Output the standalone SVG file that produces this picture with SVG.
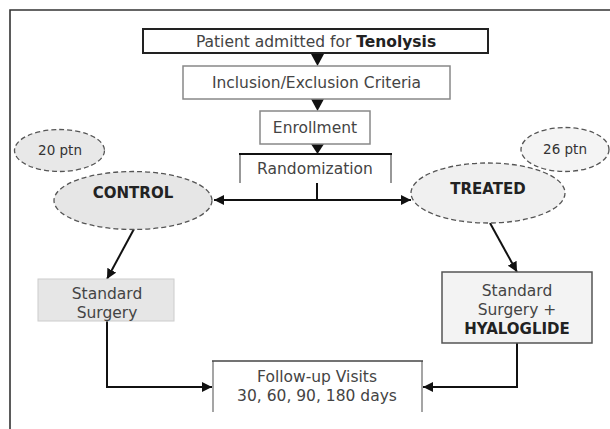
<svg xmlns="http://www.w3.org/2000/svg" width="610" height="429" viewBox="0 0 610 429">
<defs>
<style>
.t{font-family:"DejaVu Sans",Verdana,sans-serif;font-size:15.5px;fill:#444;text-anchor:middle}
.b{font-family:"DejaVu Sans",Verdana,sans-serif;font-size:15px;font-weight:bold;fill:#222;text-anchor:middle}
.s{font-family:"DejaVu Sans",Verdana,sans-serif;font-size:13.5px;fill:#333;text-anchor:middle}
.box{fill:#fff;stroke:#888;stroke-width:1.5}
.ell{stroke:#555;stroke-width:1.3;stroke-dasharray:5 3}
.ln{fill:none;stroke:#111;stroke-width:2}
.tri{fill:#111}
</style>
<marker id="ah" viewBox="0 0 10 10" refX="10" refY="5" markerWidth="5" markerHeight="5" orient="auto" markerUnits="strokeWidth">
<path d="M0,0 L10,5 L0,10 z" fill="#111"/>
</marker>
</defs>
<rect width="610" height="429" fill="#fff"/>
<path d="M10,429 V10 H610" fill="none" stroke="#333" stroke-width="1.6"/>

<g id="connectors">
<polygon class="tri" points="311,54 324,54 317.5,66"/>
<polygon class="tri" points="311,99 324,99 317.5,111"/>
<polygon class="tri" points="311,144 324,144 317.5,154"/>
<path class="ln" d="M317,183 V200" stroke-width="1.8"/>
<path class="ln" d="M317,200 H214" stroke-width="1.8" marker-end="url(#ah)"/>
<path class="ln" d="M317,200 H411" stroke-width="1.8" marker-end="url(#ah)"/>
<path class="ln" d="M134,229 L107,279" marker-end="url(#ah)"/>
<path class="ln" d="M490,223 L517,272" marker-end="url(#ah)"/>
<path class="ln" d="M107,321 V387 H212" marker-end="url(#ah)"/>
<path class="ln" d="M517,343 V387 H423" marker-end="url(#ah)"/>
</g>

<g id="patient">
<rect x="143" y="29" width="345" height="24" fill="#fff" stroke="#222" stroke-width="2"/>
<text class="t" x="316" y="47">Patient admitted for <tspan font-weight="bold" fill="#222">Tenolysis</tspan></text>
</g>

<g id="inclusion">
<rect class="box" x="183" y="66" width="267" height="33"/>
<text class="t" x="316.5" y="87.5">Inclusion/Exclusion Criteria</text>
</g>

<g id="enrollment">
<rect class="box" x="260" y="111" width="110" height="33"/>
<text class="t" x="315" y="132.5">Enrollment</text>
</g>

<g id="randomization">
<path d="M240,183 V154 M391,154 V183" fill="none" stroke="#777" stroke-width="1.5"/>
<path d="M239,154 H392" fill="none" stroke="#111" stroke-width="2"/>
<text class="t" x="315" y="173.5">Randomization</text>
</g>

<g id="ptn20">
<ellipse class="ell" cx="59.5" cy="150.5" rx="45" ry="21" fill="#e8e8e8"/>
<text class="s" x="60" y="155">20 ptn</text>
</g>

<g id="control">
<ellipse class="ell" cx="133" cy="200.5" rx="79" ry="29" fill="#e6e6e6"/>
<text class="b" x="133" y="198">CONTROL</text>
</g>

<g id="ptn26">
<ellipse class="ell" cx="565" cy="149.5" rx="44" ry="22" fill="#f4f4f4"/>
<text class="s" x="565" y="154">26 ptn</text>
</g>

<g id="treated">
<ellipse class="ell" cx="488" cy="193" rx="77" ry="30" fill="#f0f0f0"/>
<text class="b" x="488" y="193.5">TREATED</text>
</g>

<g id="standard">
<rect x="38" y="279" width="136" height="42" fill="#e6e6e6" stroke="#ccc" stroke-width="1"/>
<text class="t" x="107" y="298.5">Standard</text>
<text class="t" x="107" y="318">Surgery</text>
</g>

<g id="hyaloglide">
<rect x="442" y="272" width="150" height="71" fill="#f3f3f3" stroke="#555" stroke-width="1.5"/>
<text class="t" x="517" y="295.5">Standard</text>
<text class="t" x="517" y="315">Surgery +</text>
<text class="b" x="517" y="334">HYALOGLIDE</text>
</g>

<g id="followup">
<path d="M213,412 V361 M422,361 V412" fill="none" stroke="#888" stroke-width="1.5"/>
<path d="M212,361 H423" fill="none" stroke="#444" stroke-width="1.5"/>
<text class="t" x="317" y="381.5">Follow-up Visits</text>
<text class="t" x="317" y="400.5">30, 60, 90, 180 days</text>
</g>
</svg>
